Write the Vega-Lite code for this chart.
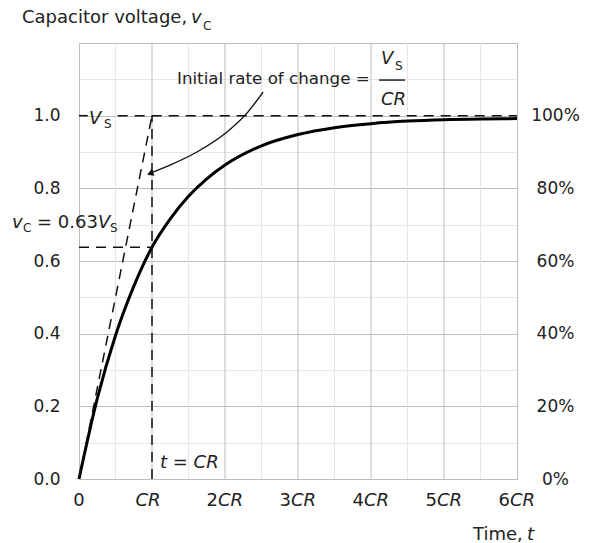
{
  "$schema": "https://vega.github.io/schema/vega-lite/v6.json",
  "width": 438,
  "height": 436,
  "autosize": {"type": "none"},
  "padding": {"left": 79, "top": 43, "right": 76, "bottom": 64},
  "background": "#ffffff",
  "config": {
    "view": {"stroke": "#bdbdbd", "strokeWidth": 1},
    "text": {"font": "DejaVu Sans", "fontSize": 18, "color": "#222222", "baseline": "alphabetic", "align": "left"}
  },
  "datasets": {
    "vgrid": [
      {"x": 0.5}, {"x": 1}, {"x": 1.5}, {"x": 2}, {"x": 2.5}, {"x": 3}, {"x": 3.5},
      {"x": 4}, {"x": 4.5}, {"x": 5}, {"x": 5.5}
    ],
    "curve": [
      {"t": 0, "v": 0}, {"t": 0.25, "v": 0.221}, {"t": 0.5, "v": 0.395}, {"t": 0.75, "v": 0.53},
      {"t": 1, "v": 0.638}, {"t": 1.25, "v": 0.716}, {"t": 1.5, "v": 0.778}, {"t": 1.75, "v": 0.826},
      {"t": 2, "v": 0.864}, {"t": 2.5, "v": 0.917}, {"t": 3, "v": 0.948}, {"t": 3.5, "v": 0.967},
      {"t": 4, "v": 0.978}, {"t": 4.5, "v": 0.985}, {"t": 5, "v": 0.989}, {"t": 5.5, "v": 0.991}, {"t": 6, "v": 0.992}
    ],
    "guides": [
      {"x": 0, "y": 0, "x2": 1, "y2": 1},
      {"x": 0, "y": 1, "x2": 0.12, "y2": 1},
      {"x": 0.53, "y": 1, "x2": 6, "y2": 1},
      {"x": 0, "y": 0.638, "x2": 1, "y2": 0.638},
      {"x": 1, "y": 0, "x2": 1, "y2": 1}
    ],
    "arrow": [
      {"x": 2.521, "y": 1.065}, {"x": 2.301, "y": 1.007}, {"x": 2.027, "y": 0.955},
      {"x": 1.616, "y": 0.9}, {"x": 1.247, "y": 0.864}, {"x": 0.99, "y": 0.843}
    ],
    "head": [{"x": 0.975, "y": 0.841}],
    "bar": [{"x": 4.11, "x2": 4.466, "y": 1.098}],
    "ticks": [
      {"t": 0, "num": "0", "ital": ""},
      {"t": 1, "num": "", "ital": "CR"},
      {"t": 2, "num": "2", "ital": "CR"},
      {"t": 3, "num": "3", "ital": "CR"},
      {"t": 4, "num": "4", "ital": "CR"},
      {"t": 5, "num": "5", "ital": "CR"},
      {"t": 6, "num": "6", "ital": "CR"}
    ],
    "notes": [
      {"x": -0.781, "y": 1.255, "text": "Capacitor voltage,", "style": "up"},
      {"x": -0.575, "y": 0.691, "text": "= 0.63", "style": "up"},
      {"x": 5.397, "y": -0.168, "text": "Time,", "style": "up"},
      {"x": 1.534, "y": 1.255, "text": "v", "style": "it"},
      {"x": 4.137, "y": 1.142, "text": "V", "style": "it"},
      {"x": 4.137, "y": 1.029, "text": "CR", "style": "it"},
      {"x": -0.918, "y": 0.691, "text": "v", "style": "it"},
      {"x": 0.26, "y": 0.691, "text": "V", "style": "it"},
      {"x": 0.137, "y": 0.977, "text": "V", "style": "it"},
      {"x": 1.11, "y": 0.03, "text": "t = CR", "style": "it"},
      {"x": 6.137, "y": -0.168, "text": "t", "style": "it"},
      {"x": 1.699, "y": 1.236, "text": "C", "style": "sub"},
      {"x": 4.329, "y": 1.126, "text": "S", "style": "sub"},
      {"x": -0.767, "y": 0.68, "text": "C", "style": "sub"},
      {"x": 0.425, "y": 0.68, "text": "S", "style": "sub"},
      {"x": 0.342, "y": 0.966, "text": "S", "style": "sub"}
    ],
    "annot": [
      {"x": 1.342, "y": 1.087, "text": "Initial rate of change ="}
    ]
  },
  "layer": [
    {
      "data": {"name": "vgrid"},
      "mark": {"type": "rule", "strokeWidth": 1},
      "encoding": {
        "x": {"field": "x", "type": "quantitative", "axis": null},
        "color": {"condition": {"test": "datum.x % 1 == 0", "value": "#bdbdbd"}, "value": "#e6e6e6"}
      }
    },
    {
      "data": {"name": "curve"},
      "mark": {"type": "line", "color": "#000000", "strokeWidth": 3, "interpolate": "monotone"},
      "encoding": {
        "x": {
          "field": "t", "type": "quantitative",
          "scale": {"domain": [0, 6], "nice": false, "zero": false},
          "axis": null
        },
        "y": {
          "field": "v", "type": "quantitative",
          "scale": {"domain": [0, 1.2], "nice": false, "zero": false},
          "axis": {
            "orient": "left",
            "values": [0, 0.1, 0.2, 0.3, 0.4, 0.5, 0.6, 0.7, 0.8, 0.9, 1.0, 1.1, 1.2],
            "grid": true,
            "gridColor": {"condition": {"test": "round(datum.value*10) % 2 == 0", "value": "#bdbdbd"}, "value": "#e6e6e6"},
            "gridWidth": 1,
            "labelExpr": "datum.value < 1.05 && round(datum.value*10) % 2 == 0 ? format(datum.value, '.1f') : ''",
            "labelOverlap": false,
            "labelFont": "DejaVu Sans", "labelFontSize": 17, "labelColor": "#222222",
            "labelPadding": 19, "ticks": false, "tickSize": 0, "domain": false, "title": null
          }
        }
      }
    },
    {
      "data": {"name": "guides"},
      "mark": {"type": "rule", "color": "#111111", "strokeWidth": 1.5, "strokeDash": [10, 7]},
      "encoding": {
        "x": {"field": "x", "type": "quantitative", "axis": null},
        "x2": {"field": "x2"},
        "y": {
          "field": "y", "type": "quantitative",
          "axis": {
            "orient": "right",
            "values": [0, 0.2, 0.4, 0.6, 0.8, 1.0],
            "labelExpr": "round(datum.value*100) + '%'",
            "grid": false, "ticks": false, "tickSize": 0, "domain": false,
            "labelAlign": "center", "labelPadding": 38, "labelOverlap": false,
            "labelFont": "DejaVu Sans", "labelFontSize": 17, "labelColor": "#222222",
            "title": null
          }
        },
        "y2": {"field": "y2"}
      }
    },
    {
      "data": {"name": "arrow"},
      "mark": {"type": "line", "color": "#111111", "strokeWidth": 1.4, "interpolate": "monotone"},
      "encoding": {
        "x": {"field": "x", "type": "quantitative", "axis": null},
        "y": {"field": "y", "type": "quantitative", "axis": null}
      }
    },
    {
      "data": {"name": "head"},
      "mark": {"type": "point", "shape": "triangle-left", "filled": true, "color": "#111111", "opacity": 1, "size": 55, "angle": -22},
      "encoding": {
        "x": {"field": "x", "type": "quantitative", "axis": null},
        "y": {"field": "y", "type": "quantitative", "axis": null}
      }
    },
    {
      "data": {"name": "bar"},
      "mark": {"type": "rule", "color": "#222222", "strokeWidth": 1.5},
      "encoding": {
        "x": {"field": "x", "type": "quantitative", "axis": null},
        "x2": {"field": "x2"},
        "y": {"field": "y", "type": "quantitative", "axis": null}
      }
    },
    {
      "data": {"name": "annot"},
      "mark": {"type": "text", "fontSize": 16.7},
      "encoding": {
        "x": {"field": "x", "type": "quantitative", "axis": null},
        "y": {"field": "y", "type": "quantitative", "axis": null},
        "text": {"field": "text"}
      }
    },
    {
      "data": {"name": "notes"},
      "transform": [{"filter": "datum.style == 'up'"}],
      "mark": {"type": "text", "fontSize": 18},
      "encoding": {
        "x": {"field": "x", "type": "quantitative", "axis": null},
        "y": {"field": "y", "type": "quantitative", "axis": null},
        "text": {"field": "text"}
      }
    },
    {
      "data": {"name": "notes"},
      "transform": [{"filter": "datum.style == 'it'"}],
      "mark": {"type": "text", "fontSize": 18, "fontStyle": "italic"},
      "encoding": {
        "x": {"field": "x", "type": "quantitative", "axis": null},
        "y": {"field": "y", "type": "quantitative", "axis": null},
        "text": {"field": "text"}
      }
    },
    {
      "data": {"name": "notes"},
      "transform": [{"filter": "datum.style == 'sub'"}],
      "mark": {"type": "text", "fontSize": 12},
      "encoding": {
        "x": {"field": "x", "type": "quantitative", "axis": null},
        "y": {"field": "y", "type": "quantitative", "axis": null},
        "text": {"field": "text"}
      }
    },
    {
      "data": {"name": "ticks"},
      "transform": [{"filter": "datum.t == 0"}],
      "mark": {"type": "text", "fontSize": 18, "align": "center", "dy": 27},
      "encoding": {
        "x": {"field": "t", "type": "quantitative", "axis": null},
        "y": {"datum": 0, "type": "quantitative", "axis": null},
        "text": {"field": "num"}
      }
    },
    {
      "data": {"name": "ticks"},
      "transform": [{"filter": "datum.t == 1"}],
      "mark": {"type": "text", "fontSize": 18, "fontStyle": "italic", "align": "center", "dy": 27, "dx": -4},
      "encoding": {
        "x": {"field": "t", "type": "quantitative", "axis": null},
        "y": {"datum": 0, "type": "quantitative", "axis": null},
        "text": {"field": "ital"}
      }
    },
    {
      "data": {"name": "ticks"},
      "transform": [{"filter": "datum.t >= 2"}],
      "mark": {"type": "text", "fontSize": 18, "align": "right", "dy": 27, "dx": -7},
      "encoding": {
        "x": {"field": "t", "type": "quantitative", "axis": null},
        "y": {"datum": 0, "type": "quantitative", "axis": null},
        "text": {"field": "num"}
      }
    },
    {
      "data": {"name": "ticks"},
      "transform": [{"filter": "datum.t >= 2"}],
      "mark": {"type": "text", "fontSize": 18, "fontStyle": "italic", "align": "left", "dy": 27, "dx": -7},
      "encoding": {
        "x": {"field": "t", "type": "quantitative", "axis": null},
        "y": {"datum": 0, "type": "quantitative", "axis": null},
        "text": {"field": "ital"}
      }
    }
  ]
}
